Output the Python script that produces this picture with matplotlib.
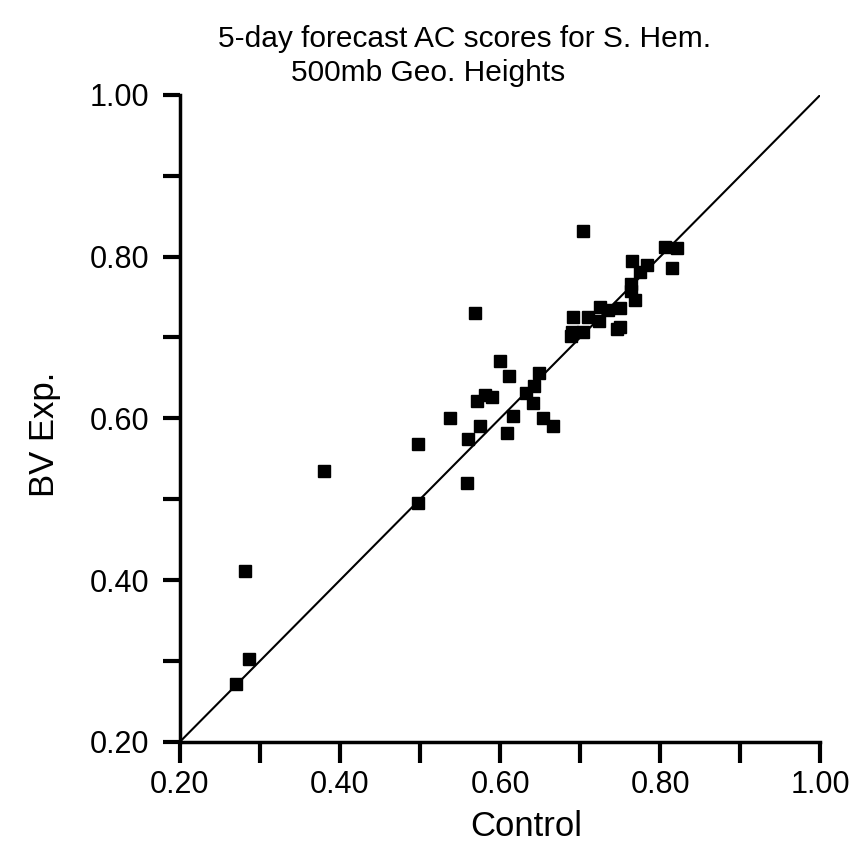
import numpy as np
import matplotlib
matplotlib.use('Agg')
import matplotlib.pyplot as plt
from matplotlib.ticker import MultipleLocator, FormatStrFormatter

plt.rcParams['font.family'] = ['Liberation Sans', 'DejaVu Sans']

control = [0.270, 0.286, 0.281, 0.380, 0.498, 0.498, 0.538, 0.560, 0.559,
           0.569, 0.575, 0.571, 0.581, 0.590, 0.600, 0.611, 0.608, 0.616,
           0.632, 0.641, 0.642, 0.649, 0.654, 0.666, 0.688, 0.690, 0.691,
           0.704, 0.704, 0.710, 0.723, 0.725, 0.735, 0.746, 0.750, 0.750,
           0.763, 0.763, 0.765, 0.769, 0.775, 0.784, 0.806, 0.815, 0.821]
bv_exp = [0.272, 0.303, 0.411, 0.535, 0.495, 0.568, 0.600, 0.575, 0.520,
          0.730, 0.590, 0.621, 0.629, 0.626, 0.671, 0.652, 0.582, 0.603,
          0.631, 0.619, 0.640, 0.656, 0.600, 0.590, 0.702, 0.707, 0.725,
          0.707, 0.831, 0.725, 0.720, 0.738, 0.734, 0.710, 0.713, 0.737,
          0.757, 0.766, 0.794, 0.746, 0.781, 0.789, 0.812, 0.786, 0.811]
diag = [0.2, 1.0]

fig = plt.figure(figsize=(8.52, 8.46), dpi=100)
ax = fig.add_axes([0.211, 0.123, 0.752, 0.765])

ax.plot(diag, diag, color='black', lw=1.5, zorder=2)
ax.plot(control, bv_exp, 's', color='black', ms=9, zorder=3)

ax.set_xlim(0.2, 1.0)
ax.set_ylim(0.2, 1.0)
for a in (ax.xaxis, ax.yaxis):
    a.set_major_locator(MultipleLocator(0.2))
    a.set_minor_locator(MultipleLocator(0.1))
    a.set_major_formatter(FormatStrFormatter('%.2f'))
ax.tick_params(which='both', direction='out', width=3, labelsize=22)
ax.tick_params(axis='y', which='both', length=12, pad=10)
ax.tick_params(axis='x', which='both', length=15, pad=5)

for s in ('top', 'right'):
    ax.spines[s].set_visible(False)
for s in ('left', 'bottom'):
    ax.spines[s].set_linewidth(2.5)

ax.set_xlabel('Control', fontsize=25)
ax.xaxis.set_label_coords(0.54, -0.105)
ax.set_ylabel('BV Exp.', fontsize=25)
ax.yaxis.set_label_coords(-0.185, 0.475)

fig.text(0.545, 1 - 47 / 846, '5-day forecast AC scores for S. Hem.',
         ha='center', va='baseline', fontsize=21.5)
fig.text(0.342, 1 - 81 / 846, '500mb Geo. Heights',
         ha='left', va='baseline', fontsize=21.5)

plt.savefig('out.png', dpi=100)
